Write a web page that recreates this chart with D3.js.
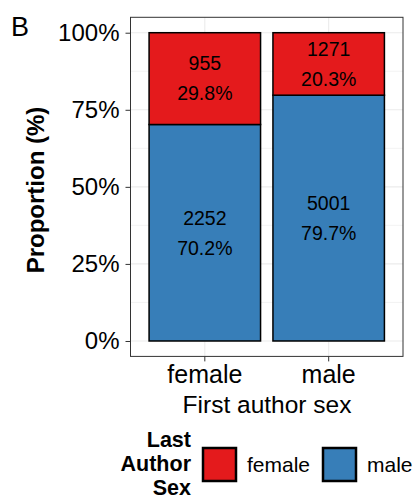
<!DOCTYPE html>
<html>
<head>
<meta charset="utf-8">
<script src="https://d3js.org/d3.v7.min.js"></script>
<style>
  body { margin: 0; background: #fff; }
  svg { font-family: "Liberation Sans", Arial, sans-serif; }
</style>
</head>
<body>
<svg id="chart"></svg>
<script>
// first author sex on x, last author sex stacked
var categories = ["female", "male"];
var lastFemale = [955, 1271];
var lastMale = [2252, 5001];
var yTicks = [0, 0.25, 0.5, 0.75, 1];
var yMinor = [0.125, 0.375, 0.625, 0.875];
var legendLabels = ["female", "male"];
var colors = { female: "#E41A1C", male: "#377EB8" };

var W = 413, H = 500;
var svg = d3.select("#chart").attr("width", W).attr("height", H);

var x = d3.scaleBand().domain(categories).range([130.5, 403])
    .paddingInner(0.1).paddingOuter(0.15);
var y = d3.scaleLinear().domain([-0.05, 1.05]).range([356.4, 17.3]);

// grid
var grid = svg.append("g");
grid.selectAll(".minor").data(yMinor).enter().append("line")
    .attr("x1", 130.5).attr("x2", 403)
    .attr("y1", d => y(d)).attr("y2", d => y(d))
    .style("stroke", "#ebebeb").style("stroke-width", 0.6);
grid.selectAll(".major").data(yTicks).enter().append("line")
    .attr("x1", 130.5).attr("x2", 403)
    .attr("y1", d => y(d)).attr("y2", d => y(d))
    .style("stroke", "#ebebeb").style("stroke-width", 1.1);
grid.selectAll(".vmajor").data(categories).enter().append("line")
    .attr("x1", d => x(d) + x.bandwidth() / 2).attr("x2", d => x(d) + x.bandwidth() / 2)
    .attr("y1", y(-0.05)).attr("y2", y(1.05))
    .style("stroke", "#ebebeb").style("stroke-width", 1.1);

// stacked data
var rows = categories.map(function (c, i) {
    var tot = lastFemale[i] + lastMale[i];
    return [
        { cat: c, key: "male", n: lastMale[i], y0: 0, y1: lastMale[i] / tot },
        { cat: c, key: "female", n: lastFemale[i], y0: lastMale[i] / tot, y1: 1 }
    ];
});
var segs = rows.flat();

svg.append("g").selectAll("rect").data(segs).enter().append("rect")
    .attr("x", d => x(d.cat))
    .attr("width", x.bandwidth())
    .attr("y", d => y(d.y1))
    .attr("height", d => y(d.y0) - y(d.y1))
    .style("fill", d => colors[d.key])
    .style("stroke", "#000")
    .style("stroke-width", 1.5);

var lab = svg.append("g").selectAll("g").data(segs).enter().append("g")
    .attr("transform", d => "translate(" + (x(d.cat) + x.bandwidth() / 2) + "," + y((d.y0 + d.y1) / 2) + ")");
lab.append("text").attr("text-anchor", "middle").attr("y", -15).attr("dy", "0.35em")
    .style("font-size", "19.5px").text(d => d.n);
lab.append("text").attr("text-anchor", "middle").attr("y", 15).attr("dy", "0.35em")
    .style("font-size", "19.5px").text(d => ((d.y1 - d.y0) * 100).toFixed(1) + "%");

// panel border
svg.append("rect").attr("x", 130.5).attr("y", y(1.05))
    .attr("width", 403 - 130.5).attr("height", y(-0.05) - y(1.05))
    .style("fill", "none").style("stroke", "#333").style("stroke-width", 1);

// axes
var yAxis = svg.append("g").attr("transform", "translate(130.5,0)")
    .call(d3.axisLeft(y).tickValues(yTicks).tickFormat(d3.format(".0%")).tickSize(5).tickPadding(6));
var xAxis = svg.append("g").attr("transform", "translate(0," + y(-0.05) + ")")
    .call(d3.axisBottom(x).tickSize(5).tickPadding(4));
[yAxis, xAxis].forEach(function (a) {
    a.select(".domain").remove();
    a.selectAll(".tick line").style("stroke", "#333").style("stroke-width", 1);
    a.selectAll(".tick text").style("fill", "#000").style("font-size", "24px")
        .style("font-family", "'Liberation Sans', Arial, sans-serif");
});
xAxis.selectAll(".tick text").style("font-size", "25px");

// titles
svg.append("text").attr("x", 267).attr("y", 413).attr("text-anchor", "middle")
    .style("font-size", "24.5px").text("First author sex");
svg.append("text").attr("transform", "translate(44,190) rotate(-90)")
    .attr("text-anchor", "middle").style("font-size", "24px").style("font-weight", "bold")
    .text("Proportion (%)");
svg.append("text").attr("x", 11).attr("y", 36).style("font-size", "27px").text("B");

// legend
var lt = svg.append("text").attr("text-anchor", "end")
    .style("font-size", "21.5px").style("font-weight", "bold");
["Last", "Author", "Sex"].forEach(function (s, i) {
    lt.append("tspan").attr("x", 191).attr("y", 447 + i * 24).text(s);
});
var keyX = [203, 323];
var leg = svg.append("g").selectAll("g").data(legendLabels).enter().append("g")
    .attr("transform", (d, i) => "translate(" + keyX[i] + ",448)");
leg.append("rect").attr("width", 33).attr("height", 33)
    .style("fill", d => colors[d]).style("stroke", "#000").style("stroke-width", 2.5);
leg.append("text").attr("x", 44).attr("y", 16.5).attr("dy", "0.35em")
    .style("font-size", "21px").text(d => d);
</script>
</body>
</html>
